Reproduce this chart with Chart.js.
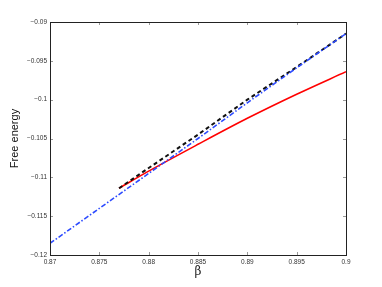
<!DOCTYPE html>
<html>
	<head>
		<title>Free energy vs beta</title>
		<meta charset="UTF-8">
		<script src="https://cdn.jsdelivr.net/npm/chart.js@4"></script>
		<style>
			html, body { margin: 0; padding: 0; background: #fff; }
			#wrap { width: 382px; height: 287px; }
		</style>
	</head>
	<body>
		<div id="wrap"><canvas id="myChart"></canvas></div>
		<script>
			// values
			const betaBlue = [0.87, 0.875, 0.88, 0.885, 0.89, 0.895, 0.9];
			const freeBlue = [-0.1185, -0.1140, -0.1095, -0.1050, -0.1004, -0.0959, -0.0915];

			const betaBlack = [0.877, 0.88, 0.885, 0.89, 0.895, 0.9];
			const freeBlack = [-0.1114, -0.1088, -0.1045, -0.1000, -0.0958, -0.0915];

			const betaRed = [0.877, 0.88, 0.885, 0.89, 0.895, 0.9];
			const freeRed = [-0.1114, -0.1092, -0.10575, -0.1024, -0.0993, -0.0964];

			function pts(xs, ys) {
				return xs.map((x, i) => ({x: x, y: ys[i]}));
			}

			function fmt(v) {
				let s = String(Math.round(v * 1000) / 1000);
				return s.replace('-', '\u2212');
			}

			// box round the plot + ticks pointing inwards on all 4 sides
			const boxPlugin = {
				id: 'box',
				afterDraw(chart) {
					const ctx = chart.ctx;
					const a = chart.chartArea;
					const xs = chart.scales.x, ys = chart.scales.y;
					ctx.save();
					ctx.strokeStyle = '#999';
					ctx.lineWidth = 1;
					ctx.beginPath();
					xs.ticks.forEach(t => {
						const px = Math.round(xs.getPixelForValue(t.value)) + 0.5;
						ctx.moveTo(px, a.bottom); ctx.lineTo(px, a.bottom - 3);
						ctx.moveTo(px, a.top); ctx.lineTo(px, a.top + 3);
					});
					ys.ticks.forEach(t => {
						const py = Math.round(ys.getPixelForValue(t.value)) + 0.5;
						ctx.moveTo(a.left, py); ctx.lineTo(a.left + 3, py);
						ctx.moveTo(a.right, py); ctx.lineTo(a.right - 3, py);
					});
					ctx.stroke();
					ctx.strokeStyle = '#222';
					ctx.strokeRect(Math.round(a.left) + 0.5, Math.round(a.top) + 0.5,
						Math.round(a.right - a.left), Math.round(a.bottom - a.top));
					ctx.restore();
				}
			};

			const ctx = document.getElementById('myChart').getContext('2d');
			const chart = new Chart(ctx, {
				type: 'line',
				data: {
					datasets: [{
						label: 'blue',
						data: pts(betaBlue, freeBlue),
						borderColor: 'rgb(45,75,255)',
						borderWidth: 1.6,
						borderDash: [5, 2, 1.5, 2],
						pointRadius: 0,
						order: 0
					}, {
						label: 'black',
						data: pts(betaBlack, freeBlack),
						borderColor: '#111',
						borderWidth: 2,
						borderDash: [4, 3],
						pointRadius: 0,
						order: 1
					}, {
						label: 'red',
						data: pts(betaRed, freeRed),
						borderColor: 'rgb(255,0,0)',
						borderWidth: 1.6,
						pointRadius: 0,
						cubicInterpolationMode: 'monotone',
						order: 2
					}]
				},
				options: {
					responsive: true,
					maintainAspectRatio: false,
					animation: false,
					layout: { padding: { top: 22, right: 36, left: 0, bottom: 0 } },
					plugins: {
						legend: { display: false },
						tooltip: { enabled: false }
					},
					scales: {
						x: {
							type: 'linear',
							min: 0.87,
							max: 0.9,
							grid: { display: false, drawTicks: false },
							border: { display: false },
							ticks: {
								stepSize: 0.005,
								padding: 3,
								maxRotation: 0,
								color: '#333',
								font: { family: 'Liberation Sans', size: 6.5 },
								callback: v => fmt(v)
							},
							title: {
								display: true,
								text: 'β',
								color: '#222',
								padding: { top: 0, bottom: 8 },
								font: { family: 'DejaVu Serif', size: 12 }
							},
							afterFit: s => { s.height = 32; }
						},
						y: {
							type: 'linear',
							min: -0.12,
							max: -0.09,
							grid: { display: false, drawTicks: false },
							border: { display: false },
							ticks: {
								stepSize: 0.005,
								padding: 3,
								color: '#333',
								font: { family: 'Liberation Sans', size: 6.5 },
								callback: v => fmt(v)
							},
							title: {
								display: true,
								text: 'Free energy',
								color: '#111',
								padding: { top: 8, bottom: 0 },
								font: { family: 'Liberation Sans', size: 11 }
							},
							afterFit: s => { s.width = 50; }
						}
					}
				},
				plugins: [boxPlugin]
			});
		</script>
	</body>
</html>
